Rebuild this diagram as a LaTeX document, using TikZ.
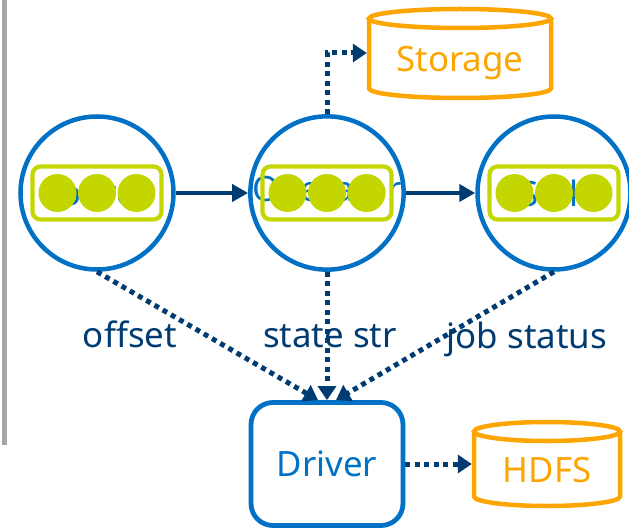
\documentclass[tikz,border=0pt]{standalone}
\usepackage{fontspec}
\setmainfont{Noto Sans}
\usepackage{tikz}
\usetikzlibrary{arrows.meta}
\usepackage{xcolor}
\definecolor{intelblue}{RGB}{0,113,197}
\definecolor{inteldark}{RGB}{0,60,113}
\definecolor{intellime}{RGB}{196,214,0}
\definecolor{intelorange}{RGB}{253,165,0}

\begin{document}
\begin{tikzpicture}[x=1bp, y=-1bp]
        % ================= 样式定义 =================
        \tikzset{
            % 算子节点:蓝边圆圈,文字被圆点盖住
            opnode/.style={circle, draw=intelblue, line width=4.5bp, minimum size=153bp, inner sep=0pt, text=intelblue, font=\fontsize{35}{42}\selectfont},
            % 圆圈里的黄绿框
            slotbox/.style={rectangle, rounded corners=8bp, draw=intellime, line width=4.2bp, minimum width=129bp, minimum height=53bp, inner sep=0pt},
            % 黄绿圆点
            slotdot/.style={fill=intellime},
            % Driver 圆角方框
            drvbox/.style={rectangle, rounded corners=22bp, draw=intelblue, line width=4.8bp, minimum width=152bp, minimum height=123bp, text=intelblue, font=\fontsize{35}{42}\selectfont},
            % 存储 (圆柱) 的文字与轮廓
            store/.style={rectangle, inner sep=0pt, text=intelorange, font=\fontsize{35}{42}\selectfont},
            drum/.style={draw=intelorange, line width=4.5bp},
            % 实线箭头 / 点线箭头
            flow/.style={line width=4.5bp, inteldark, -{Triangle[length=16bp, width=17bp]}},
            report/.style={line width=5bp, inteldark, dash pattern=on 5bp off 4.5bp, -{Triangle[length=14bp, width=18bp]}},
            % 点线旁的文字
            tag/.style={text=inteldark, anchor=base, font=\fontsize{35}{42}\selectfont}
        }

        \useasboundingbox (0,0) rectangle (629,529);

        % 左边的灰条
        \draw[line width=4bp, black!35] (4.5,0) -- (4.5,445);

        % ================= 上排:三个圆圈 =================
        \node[opnode] (src) at (97,193) {Source};
        \node[opnode] (opr) at (327,193) {Operator};
        \node[opnode] (snk) at (554,193) {Sink};

        % 黄绿框和三个圆点
        \foreach \c in {src,opr,snk} {
            \node[slotbox] (\c-box) at (\c) {};
            \foreach \d in {-39.5,0,39.5}
                \fill[slotdot] ([xshift=\d bp]\c.center) circle[radius=19bp];
        }

        % ================= 存储:Storage 与 HDFS =================
        \draw[drum] (460,18.5) ellipse[x radius=91, y radius=9.5];
        \draw[drum] (369,18.5) -- (369,88.5) arc[start angle=180, end angle=0, x radius=91, y radius=9.5] -- (551,18.5);
        \node[store, minimum width=186bp] (storage) at (460,63) {Storage};

        \draw[drum] (547,431.5) ellipse[x radius=73, y radius=9.5];
        \draw[drum] (474,431.5) -- (474,496.5) arc[start angle=180, end angle=0, x radius=73, y radius=9.5] -- (620,431.5);
        \node[store, minimum width=150bp] (hdfs) at (547,470) {HDFS};

        % ================= Driver =================
        \node[drvbox] (drv) at (327,464) {Driver};

        % 点线上的文字
        \node[tag] (offlbl) at (130,347) {offset};
        \node[tag] (statelbl) at (330,347) {state str};
        \node[tag] (joblbl) at (527,348) {job status};

        % ================= 连线 =================
        \draw[flow] (src) -- (opr);
        \draw[flow] (opr) -- (snk);

        \draw[report] (opr.north) |- ([yshift=10bp]storage.west);

        \draw[report] (src.south) -- ([xshift=-9bp]drv.north);
        \draw[report] (opr.south) -- (drv.north);
        \draw[report] (snk.south) -- ([xshift=9bp]drv.north);
        \draw[report] (drv.east) -- (drv.east -| hdfs.west);

    \end{tikzpicture}
\end{document}
